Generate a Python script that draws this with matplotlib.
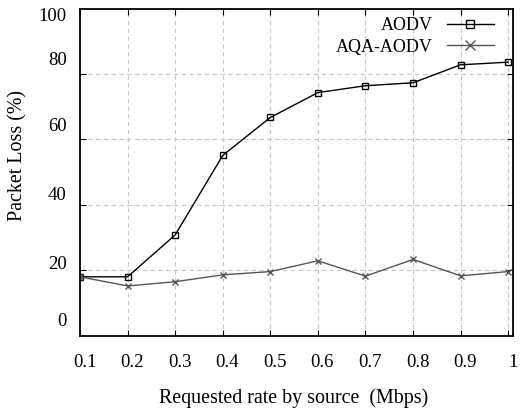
import matplotlib
matplotlib.use("Agg")
import matplotlib.pyplot as plt

rates = [0.1, 0.2, 0.3, 0.4, 0.5, 0.6, 0.7, 0.8, 0.9, 1.0]
aodv = [18.0, 18.0, 30.8, 55.1, 66.7, 74.3, 76.4, 77.3, 82.8, 83.6]
aqa_aodv = [18.0, 15.2, 16.5, 18.6, 19.6, 22.9, 18.2, 23.3, 18.3, 19.6]
xtick_labels = ["0.1", "0.2", "0.3", "0.4", "0.5", "0.6", "0.7", "0.8", "0.9", "1"]
ytick_labels = ["0", "20", "40", "60", "80", "100"]
ytick_label_pos = [4.8, 22.5, 43.6, 64.4, 84.6, 98.3]
grid_y = [20, 40, 60, 80]

plt.rcParams['font.family'] = ['Liberation Serif', 'DejaVu Serif']
fs_tick = 13.5
fs_label = 14.4
fs_leg = 13

fig = plt.figure(figsize=(5.22, 4.11), dpi=100)
ax = fig.add_axes([0.1533, 0.1832, 0.8289, 0.7961])

ax.plot(rates, aodv, color='black', lw=1.0, marker='s', ms=4.2, mfc='none',
        mec='black', mew=1.0, label='AODV')
ax.plot(rates, aqa_aodv, color='#555555', lw=1.0, marker='x', ms=5.0,
        mec='#555555', mew=1.0, label='AQA-AODV')

ax.set_xlim(0.1, 1.0)
ax.set_ylim(0, 100)

# labels slightly right of the grid positions, as in the reference
xlabel_pos = [r + 0.0095 for r in rates]
ax.set_xticks(xlabel_pos)
ax.set_xticklabels(xtick_labels, fontsize=fs_tick)
ax.tick_params(axis='x', which='major', length=0, pad=13)
ax.set_xticks(rates, minor=True)
ax.tick_params(axis='x', which='minor', direction='in', length=4, width=0.8,
               top=True, bottom=True)
ax.grid(True, axis='x', which='minor', color='#c8c8c8', ls=(0, (4, 3)), lw=0.8)
ax.grid(False, axis='x', which='major')

ax.set_yticks(ytick_label_pos)
ax.set_yticklabels(ytick_labels, fontsize=fs_tick)
ax.tick_params(axis='y', which='major', length=0, pad=9.5)
ax.set_yticks(grid_y, minor=True)
ax.tick_params(axis='y', which='minor', direction='in', length=4, width=0.8,
               left=True, right=True)
ax.grid(True, axis='y', which='minor', color='#c8c8c8', ls=(0, (4, 3)), lw=0.8)
ax.grid(False, axis='y', which='major')

for s in ax.spines.values():
    s.set_linewidth(1.3)

ax.set_xlabel('Requested rate by source  (Mbps)', fontsize=fs_label)
ax.xaxis.set_label_coords(0.493, -0.16)
ax.set_ylabel('Packet Loss (%)', fontsize=fs_label)
ax.yaxis.set_label_coords(-0.1225, 0.552)

leg = ax.legend(loc='upper right', bbox_to_anchor=(0.985, 1.012), frameon=False,
                markerfirst=False, fontsize=fs_leg, handlelength=2.6,
                handletextpad=0.75, labelspacing=0.25, markerscale=1.5,
                borderaxespad=0.3)

fig.savefig('out.png', dpi=100)
